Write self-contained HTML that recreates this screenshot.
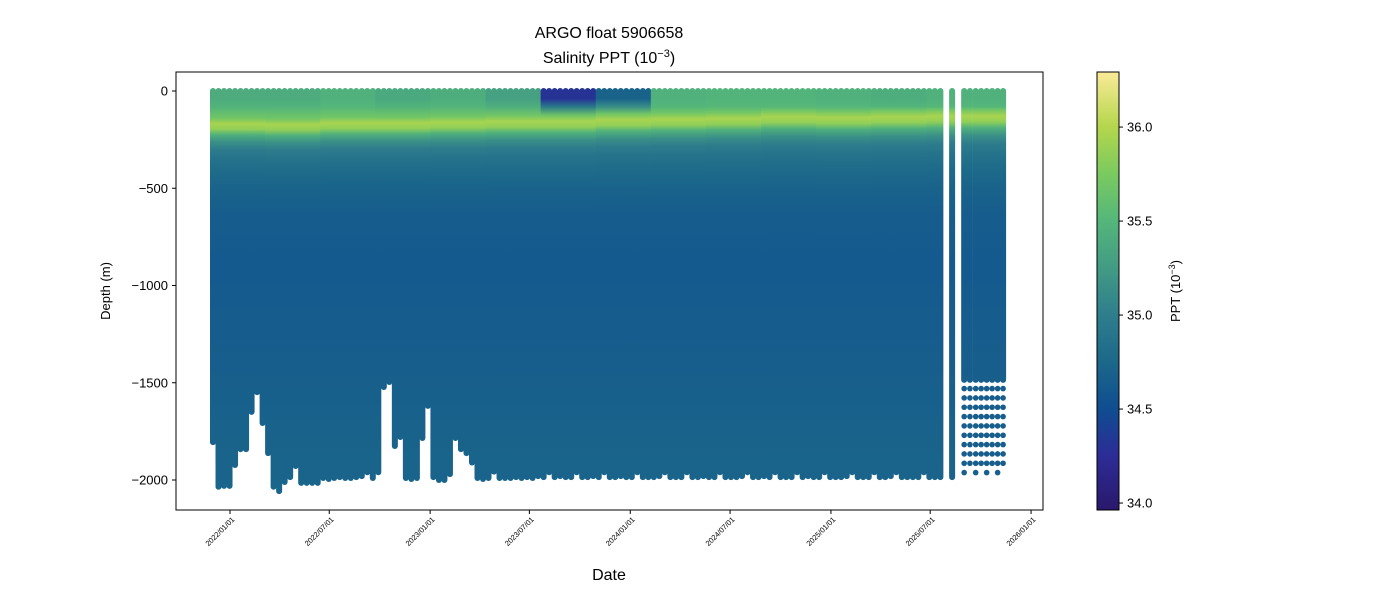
<!DOCTYPE html>
<html><head><meta charset="utf-8">
<style>
html,body{margin:0;padding:0;background:#fff;}
svg{display:block;font-family:"Liberation Sans","DejaVu Sans",sans-serif;}
</style></head>
<body>
<svg id="chart" width="1400" height="600" viewBox="0 0 1400 600" xmlns="http://www.w3.org/2000/svg">
<defs id="defs"></defs>
<rect x="0" y="0" width="1400" height="600" fill="#fff"/>
<text x="609" y="38" font-size="16" text-anchor="middle" fill="#000">ARGO float 5906658</text>
<text x="609" y="63" font-size="16" text-anchor="middle" fill="#000">Salinity PPT (10<tspan font-size="11" dy="-6">−3</tspan><tspan dy="6">)</tspan></text>
<g id="plot"></g>
<rect x="176" y="72" width="867" height="438" fill="none" stroke="#000" stroke-width="1"/>
<g id="yaxis"></g>
<g id="xaxis"></g>
<text transform="translate(110,291) rotate(-90)" font-size="13" text-anchor="middle">Depth (m)</text>
<text x="609" y="580" font-size="16" text-anchor="middle">Date</text>
<g id="cbar"></g>
<text transform="translate(1180,291) rotate(-90)" font-size="13" text-anchor="middle">PPT (10<tspan font-size="9" dy="-5">−3</tspan><tspan dy="5">)</tspan></text>
</svg>
<script>
// ---- data ----
const profileStartDay = -31;   // days since 2022-01-01 of first cycle
const cycleDays = 10.05;
const profileMaxDepth = [1805,2035,2030,2030,1923,1841,1841,1650,1548,1707,1862,2035,2057,2010,1985,1928,2015,2015,2015,2015,
1990,1995,1990,1985,1990,1990,1985,1980,1960,1990,1960,1522,1496,1825,1779,1990,1995,1990,1784,1619,
1985,2000,2000,1970,1784,1841,1862,1910,1990,1995,1990,1957,1990,1990,1990,1985,1990,1985,1990,1980,
1985,1960,1985,1980,1985,1985,1960,1985,1985,1980,1985,1960,1985,1985,1980,1985,1985,1960,1985,1985,
1985,1980,1960,1985,1985,1985,1960,1985,1985,1980,1985,1985,1960,1985,1985,1985,1980,1960,1985,1985,
1980,1985,1960,1985,1985,1985,1960,1985,1980,1985,1985,1960,1985,1985,1985,1980,1960,1985,1985,1985,
1960,1985,1985,1980,1960,1985,1985,1985,1985,1960,1985,1985,1985];
const extraDays = [1317];
const extraDepth = [1985];
const lateDays = [1339,1349.5,1360,1370,1380,1390,1400,1410];
const lateContinuousDepth = 1485;
const lateDotDepths = [1530,1578,1626,1674,1722,1770,1818,1866,1914];
const lateBottomDepth = [1962,null,1962,null,1962,null,1962,null];
// mean salinity profile
const levelDepths = [0,40,80,110,140,170,200,240,280,330,400,500,650,900,1200,1500,1800,2050];
const levelSal    = [35.45,35.45,35.55,35.70,35.95,35.85,35.45,35.15,34.98,34.88,34.78,34.70,34.64,34.62,34.64,34.67,34.70,34.72];
// per group of 10 profiles
const groupCoreShift = [35,40,30,30,25,20,20,10,5,0,-10,-5,-10,-15,-15];
const groupSurfaceSal = [35.40,35.40,35.45,35.38,35.42,35.30,34.30,34.70,35.45,35.48,35.48,35.45,35.42,35.45,35.45];
const cbTicks = [34.0,34.5,35.0,35.5,36.0];
const yTicks = [0,-500,-1000,-1500,-2000];
const xTickLabels = ["2022/01/01","2022/07/01","2023/01/01","2023/07/01","2024/01/01","2024/07/01","2025/01/01","2025/07/01","2026/01/01"];
const xTickDays = [0,181,365,546,730,912,1096,1277,1461];

// ---- scales ----
const NS="http://www.w3.org/2000/svg";
const xs = d => 230 + d*0.5483;
const ys = m => 91 + m*0.1945;       // m = positive depth
const cmin=33.963, cmax=36.293;
const cbY = s => 510 - (s-cmin)/(cmax-cmin)*438;
const cstops=[[33.96,[42,24,108]],[34.25,[44,44,150]],[34.5,[15,77,145]],[34.75,[28,104,138]],[35.0,[46,126,140]],[35.25,[66,155,132]],[35.5,[84,182,122]],[35.75,[122,202,96]],[36.0,[180,214,76]],[36.3,[250,234,152]]];
function cmap(s){
  if(s<=cstops[0][0]) return rgb(cstops[0][1]);
  for(let i=1;i<cstops.length;i++){ if(s<=cstops[i][0]){const a=cstops[i-1],b=cstops[i],t=(s-a[0])/(b[0]-a[0]);
    return rgb(a[1].map((v,j)=>v+(b[1][j]-v)*t));}}
  return rgb(cstops[cstops.length-1][1]);
}
function rgb(c){return `rgb(${c.map(v=>Math.round(v)).join(',')})`;}
function el(tag,attrs,parent){const e=document.createElementNS(NS,tag);for(const k in attrs)e.setAttribute(k,attrs[k]);parent.appendChild(e);return e;}

const defs=document.getElementById('defs');
const plot=document.getElementById('plot');
let gid=0;
function profileGradient(shift,surf){
  const g=el('linearGradient',{id:'g'+gid,gradientUnits:'userSpaceOnUse',x1:0,x2:0,y1:ys(0),y2:ys(2060)},defs);
  levelDepths.forEach((d,i)=>{
    let dd = i<3 ? d : d+shift*Math.max(0,1-d/700);
    let s = levelSal[i];
    if(i<2) s = surf; else if(i===2) s=(surf+levelSal[2])/2;
    el('stop',{offset:Math.min(1,Math.max(0,dd/2060)),'stop-color':cmap(s)},g);
  });
  return 'url(#g'+(gid++)+')';
}
function drawProfile(day,maxD,k,shift,surf){
  const x=xs(day);
  const r=el('rect',{x:x-3,y:ys(0)-3,width:6,height:ys(maxD)-ys(0)+6,rx:3,ry:3,fill:profileGradient(shift,surf)},plot);
  
  
}
profileMaxDepth.forEach((d,k)=>{
  const grp=Math.min(groupCoreShift.length-1,Math.floor(k/10));
  drawProfile(profileStartDay+k*cycleDays,d,k,groupCoreShift[grp],groupSurfaceSal[grp]);
});
extraDays.forEach((day,i)=>drawProfile(day,extraDepth[i],'extra-'+i,-15,35.45));
lateDays.forEach((day,i)=>{
  drawProfile(day,lateContinuousDepth,'late-'+i,-15,35.45);
  lateDotDepths.forEach(dd=>{
    const c=el('circle',{cx:xs(day),cy:ys(dd),r:2.8,fill:cmap(34.66)},plot);
    
    
  });
  if(lateBottomDepth[i]!==null){
    const c=el('circle',{cx:xs(day),cy:ys(lateBottomDepth[i]),r:2.8,fill:cmap(34.68)},plot);
    
    
  }
});

// y axis
const ya=document.getElementById('yaxis');
yTicks.forEach(v=>{
  const y=ys(-v);
  el('line',{x1:172,x2:176,y1:y,y2:y,stroke:'#000'},ya);
  const t=el('text',{x:168,y:y+4.5,'font-size':13,'text-anchor':'end'},ya);
  t.textContent=(v<0?'−':'')+Math.abs(v);
  
  
});
// x axis
const xa=document.getElementById('xaxis');
xTickDays.forEach((d,i)=>{
  const x=xs(d);
  el('line',{x1:x,x2:x,y1:510,y2:514,stroke:'#000'},xa);
  const t=el('text',{transform:`translate(${x+5},${520}) rotate(-45)`,'font-size':7.5,'text-anchor':'end'},xa);
  t.textContent=xTickLabels[i];
  
  
});
// colorbar
const cb=document.getElementById('cbar');
const cg=el('linearGradient',{id:'cbg',x1:0,x2:0,y1:1,y2:0},defs);
cstops.forEach(s=>el('stop',{offset:Math.max(0,Math.min(1,(s[0]-cmin)/(cmax-cmin))),'stop-color':rgb(s[1])},cg));
el('rect',{x:1097,y:72,width:22,height:438,fill:'url(#cbg)',stroke:'#000','stroke-width':1},cb);
cbTicks.forEach(v=>{
  const y=cbY(v);
  el('line',{x1:1119,x2:1123,y1:y,y2:y,stroke:'#000'},cb);
  const t=el('text',{x:1127,y:y+4.5,'font-size':13},cb);
  t.textContent=v.toFixed(1);
  
  
});
</script>
</body></html>
